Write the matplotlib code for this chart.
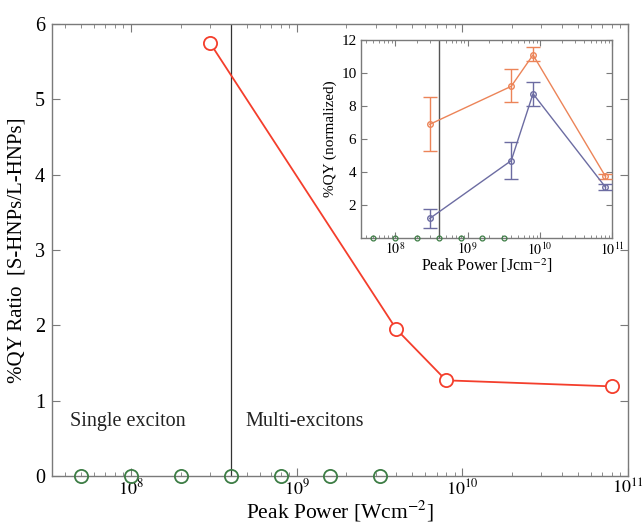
import matplotlib
matplotlib.use("Agg")
import matplotlib.pyplot as plt
from matplotlib.ticker import LogLocator, NullFormatter, FixedLocator

plt.rcParams['font.family'] = ['Liberation Serif', 'DejaVu Serif']
plt.rcParams['mathtext.fontset'] = 'stix'

# main panel: %QY ratio vs peak power
ratioPower = [3e8, 4e9, 8e9, 8e10]
ratioValues = [5.75, 1.95, 1.27, 1.19]

# points with zero ratio (single exciton regime)
zeroPower = [5e7, 1e8, 2e8, 4e8, 8e8, 1.6e9, 3.2e9]
zeroValues = [0, 0, 0, 0, 0, 0, 0]

thresholdPower = 4e8

# inset: %QY normalized
insetPower = [3e8, 4e9, 8e9, 8e10]
orangeQY = [6.9, 9.2, 11.1, 3.75]
orangeLow = [5.3, 8.25, 10.75, 3.6]
orangeHigh = [8.55, 10.25, 11.55, 3.9]
blueQY = [1.2, 4.7, 8.75, 3.1]
blueLow = [0.6, 3.6, 8.0, 2.95]
blueHigh = [1.8, 5.8, 9.45, 3.28]

xTickLabels = [r'$10^{8}$', r'$10^{9}$', r'$10^{10}$', r'$10^{11}$']

spineGray = "#7a7a7a"
red = "#f43e2c"
green = "#3d7d45"
orange = "#ec8458"
blue = "#6c6ca2"

fig = plt.figure(figsize=(6.44, 5.23), dpi=100)
ax = fig.add_axes([0.0807, 0.0899, 0.894, 0.864])

ax.plot(ratioPower, ratioValues, color=red, lw=1.3, marker='o', ms=9.5,
        mfc='white', mec=red, mew=1.3, zorder=3)
ax.plot(zeroPower, zeroValues, ls='none', marker='o', ms=9.5,
        mfc='none', mec=green, mew=1.3, zorder=3, clip_on=False)
ax.axvline(thresholdPower, color='#333333', lw=0.9)

ax.set_xscale('log')
ax.set_xlim(3.33e7, 1e11)
ax.set_ylim(0, 6)
ax.set_yticks(range(0, 7))
ax.xaxis.set_major_locator(FixedLocator([1e8, 1e9, 1e10, 1e11]))
ax.xaxis.set_minor_locator(LogLocator(base=10, subs=range(2, 10), numticks=20))
ax.xaxis.set_minor_formatter(NullFormatter())
ax.set_xticklabels(xTickLabels)
ax.tick_params(which='both', direction='in', top=True, right=True,
               color=spineGray)
ax.tick_params(axis='y', labelsize=14.5, pad=5)
ax.tick_params(axis='x', labelsize=13, pad=2)
ax.tick_params(which='major', length=6)
ax.tick_params(which='minor', length=3)
for s in ax.spines.values():
    s.set_color(spineGray)
    s.set_linewidth(1.0)

ax.set_xlabel(r'Peak Power [Wcm$^{-2}$]', fontsize=15.5, va='center')
ax.xaxis.set_label_coords(0.5, -0.079)
ax.set_ylabel('%QY Ratio  [S-HNPs/L-HNPs]', fontsize=15, labelpad=6)

ax.text(4.28e7, 0.73, 'Single exciton', fontsize=14.5, va='center', color='#222222')
ax.text(4.9e8, 0.73, 'Multi-excitons', fontsize=14.5, va='center', color='#222222')

# inset
ins = fig.add_axes([0.560, 0.5444, 0.391, 0.379])
ins.errorbar(insetPower, orangeQY,
             yerr=[[q - l for q, l in zip(orangeQY, orangeLow)],
                   [h - q for q, h in zip(orangeQY, orangeHigh)]],
             color=orange, lw=1.0, marker='o', ms=4, mfc='none', mec=orange,
             capsize=5, elinewidth=1.0, capthick=1.0, zorder=3)
ins.errorbar(insetPower, blueQY,
             yerr=[[q - l for q, l in zip(blueQY, blueLow)],
                   [h - q for q, h in zip(blueQY, blueHigh)]],
             color=blue, lw=1.0, marker='o', ms=4, mfc='none', mec=blue,
             capsize=5, elinewidth=1.0, capthick=1.0, zorder=3)
ins.plot(zeroPower, zeroValues, ls='none', marker='o', ms=3.5,
         mfc='none', mec=green, mew=0.9, clip_on=False, zorder=3)
ins.axvline(thresholdPower, color='#555555', lw=1.0)

ins.set_xscale('log')
ins.set_xlim(3.33e7, 1e11)
ins.set_ylim(0, 12)
ins.set_yticks([2, 4, 6, 8, 10, 12])
ins.xaxis.set_major_locator(FixedLocator([1e8, 1e9, 1e10, 1e11]))
ins.xaxis.set_minor_locator(LogLocator(base=10, subs=range(2, 10), numticks=20))
ins.xaxis.set_minor_formatter(NullFormatter())
ins.set_xticklabels(xTickLabels)
ins.tick_params(which='both', direction='in', top=True, right=True,
                color=spineGray)
ins.tick_params(axis='y', labelsize=11, pad=3)
ins.tick_params(axis='x', labelsize=10, pad=2)
ins.tick_params(which='major', length=4)
ins.tick_params(which='minor', length=2)
for s in ins.spines.values():
    s.set_color(spineGray)
    s.set_linewidth(1.0)
ins.set_xlabel(r'Peak Power [Jcm$^{-2}$]', fontsize=11.5, va='center')
ins.xaxis.set_label_coords(0.5, -0.14)
ins.set_ylabel('%QY (normalized)', fontsize=11, labelpad=3)

fig.savefig('out.png', dpi=100)
